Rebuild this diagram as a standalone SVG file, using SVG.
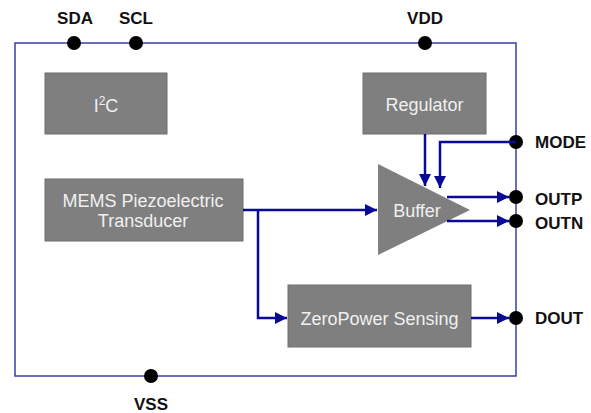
<svg xmlns="http://www.w3.org/2000/svg" width="591" height="413" viewBox="0 0 591 413">
<style>
.box{fill:#7f7f7f;stroke:#6f6f6f;stroke-width:1}
.bt{font-family:"Liberation Sans",Arial,sans-serif;font-size:18px;fill:#f0f0f0;text-anchor:middle}
.pl{font-family:"Liberation Sans",Arial,sans-serif;font-size:17px;font-weight:bold;fill:#111}
.pin{fill:#000}
.wire{fill:none;stroke:#0a0a96;stroke-width:2.5}
.border{fill:none;stroke:#3c3ca8;stroke-width:1.5}
</style>
<defs>
<marker id="ah" viewBox="0 0 10 10" refX="10" refY="5" markerWidth="5" markerHeight="5" markerUnits="strokeWidth" orient="auto">
<path d="M0,0 L10,5 L0,10 z" fill="#0a0a96"/>
</marker>
</defs>
<rect class="border" x="15" y="43" width="501" height="333"/>
<g id="pins">
<circle class="pin" cx="74" cy="43" r="7"/><text class="pl" x="75" y="24" text-anchor="middle">SDA</text>
<circle class="pin" cx="136" cy="43" r="7"/><text class="pl" x="136" y="24" text-anchor="middle">SCL</text>
<circle class="pin" cx="425" cy="43" r="7"/><text class="pl" x="425" y="24" text-anchor="middle">VDD</text>
<circle class="pin" cx="151" cy="376" r="7"/><text class="pl" x="151" y="410" text-anchor="middle">VSS</text>
<circle class="pin" cx="516" cy="142" r="7"/><text class="pl" x="535" y="148">MODE</text>
<circle class="pin" cx="516" cy="197" r="7"/><text class="pl" x="535" y="205">OUTP</text>
<circle class="pin" cx="516" cy="221" r="7"/><text class="pl" x="535" y="229">OUTN</text>
<circle class="pin" cx="516" cy="318" r="7"/><text class="pl" x="535" y="324">DOUT</text>
</g>
<g id="i2c"><rect class="box" x="45" y="73" width="122" height="61"/><text class="bt" x="106" y="112">I<tspan font-size="12" dy="-7">2</tspan><tspan dy="7">C</tspan></text></g>
<g id="regulator"><rect class="box" x="363" y="73" width="123" height="61"/><text class="bt" x="424.5" y="111">Regulator</text></g>
<g id="mems"><rect class="box" x="45" y="179" width="198" height="62"/><text class="bt" x="143" y="207">MEMS Piezoelectric</text><text class="bt" x="143" y="227">Transducer</text></g>
<g id="zeropower"><rect class="box" x="288" y="285" width="183" height="62"/><text class="bt" x="379.5" y="325">ZeroPower Sensing</text></g>
<g id="buffer"><polygon points="378,164 470,210 378,255" fill="#7f7f7f"/><text class="bt" x="417" y="217">Buffer</text></g>
<g id="connectors">
<path class="wire" d="M425,134 V186" marker-end="url(#ah)"/>
<path class="wire" d="M516,142 H440 V188" marker-end="url(#ah)"/>
<path class="wire" d="M447,197 H509" marker-end="url(#ah)"/>
<path class="wire" d="M447,221 H509" marker-end="url(#ah)"/>
<path class="wire" d="M243,210 H377" marker-end="url(#ah)"/>
<path class="wire" d="M258,210 V318 H287" marker-end="url(#ah)"/>
<path class="wire" d="M471,318 H509" marker-end="url(#ah)"/>
</g>
</svg>
